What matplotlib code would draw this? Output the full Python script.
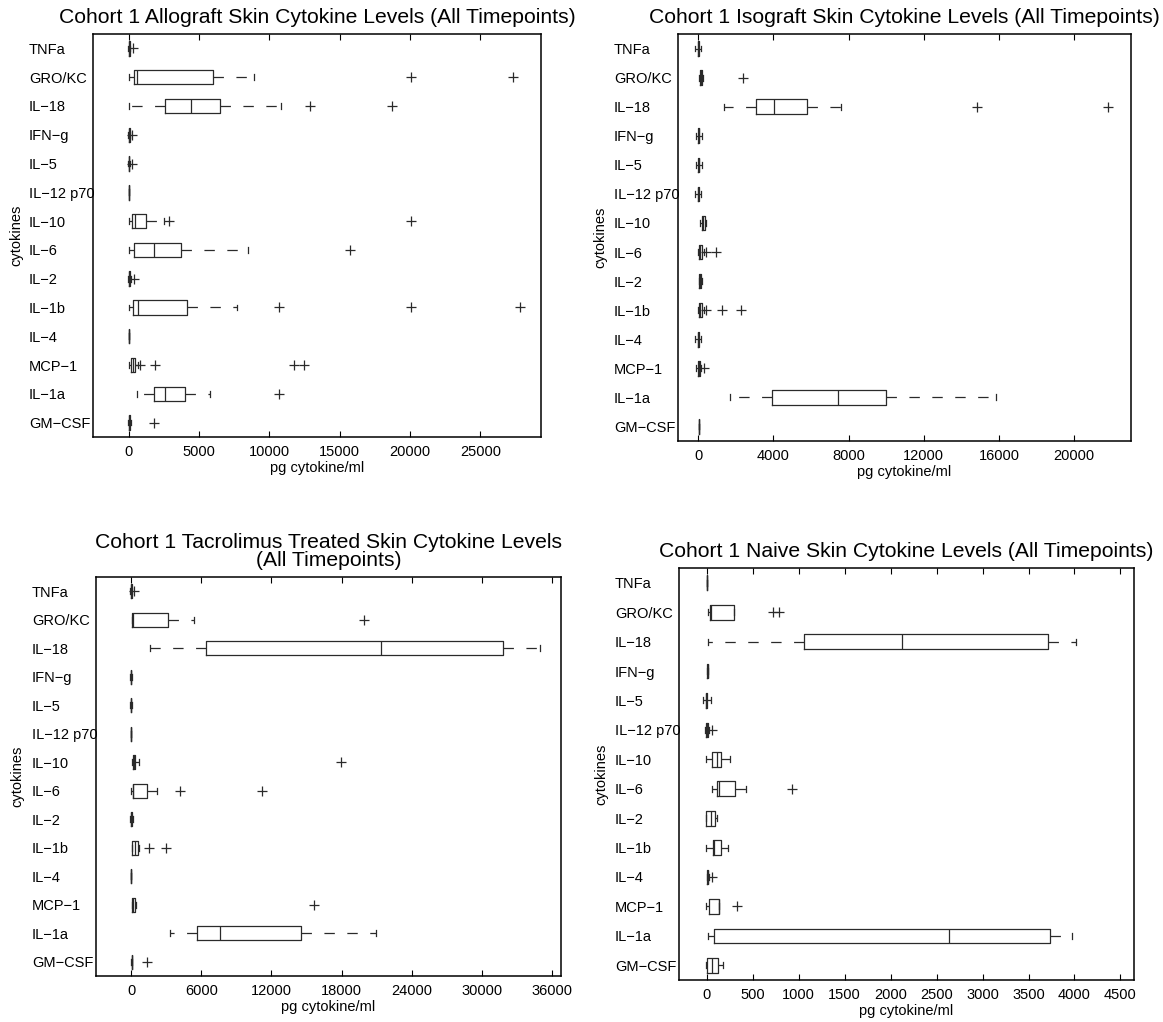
import numpy as np
import matplotlib
matplotlib.use("Agg")
import matplotlib.pyplot as plt

plt.rcParams['font.family'] = ['Liberation Sans', 'DejaVu Sans']
plt.rcParams['lines.scale_dashes'] = False

cytokines = ["TNFa", "GRO/KC", "IL\u221218", "IFN\u2212g", "IL\u22125", "IL\u221212 p70",
             "IL\u221210", "IL\u22126", "IL\u22122", "IL\u22121b", "IL\u22124",
             "MCP\u22121", "IL\u22121a", "GM\u2212CSF"]

# box stats per cytokine: (whisker low, q1, median, q3, whisker high), pg/ml
allograft_box = [(-60, 0, 20, 60, 120), (0, 355, 590, 6000, 8930),
                 (0, 2600, 4460, 6520, 10850), (-40, 0, 30, 70, 120),
                 (-60, -10, 20, 50, 100), (0, 0, 5, 10, 15),
                 (50, 240, 470, 1260, 2540), (0, 355, 1780, 3720, 8490),
                 (-30, 20, 50, 100, 160), (50, 285, 665, 4150, 7660),
                 (0, 0, 5, 10, 15), (50, 190, 300, 475, 650),
                 (590, 1780, 2600, 4030, 5760), (-30, 0, 30, 80, 130)]
allograft_out = [[310], [20030, 27300], [12870, 18720], [230], [200], [],
                 [2840, 20030], [15690], [400], [10710, 20030, 27800], [],
                 [820, 1840, 11730, 12440], [10660], [1800]]

isograft_box = [(-150, -20, 0, 20, 150), (40, 70, 120, 195, 250),
                (1366, 3070, 4030, 5766, 7590), (-120, 0, 30, 60, 180),
                (-120, 0, 30, 60, 180), (-170, -20, 0, 20, 150),
                (70, 180, 260, 340, 420), (0, 50, 110, 195, 280),
                (20, 35, 90, 160, 180), (0, 50, 100, 195, 280),
                (-150, -20, 0, 20, 150), (-100, 0, 40, 90, 150),
                (1685, 3920, 7430, 9970, 15860), (20, 30, 35, 40, 50)]
isograft_out = [[], [2400], [14850, 21800], [], [], [], [], [390, 920], [],
                [390, 1280, 2250], [], [300], [], []]

tacro_box = [(-60, -20, 0, 40, 100), (60, 114, 200, 3160, 5390),
             (1625, 6410, 21380, 31800, 35000), (-100, -20, 0, 30, 100),
             (-100, -20, 0, 30, 100), (0, 0, 0, 5, 5),
             (90, 140, 250, 370, 710), (0, 140, 170, 1400, 2250),
             (-60, -10, 20, 60, 150), (60, 85, 300, 630, 700),
             (0, 0, 0, 5, 5), (50, 85, 200, 370, 450),
             (3360, 5610, 7610, 14535, 20920), (30, 40, 50, 60, 70)]
tacro_out = [[285], [19950], [], [], [], [], [17950], [4220, 11170], [],
             [1570, 2960], [], [15650], [], [1370]]

naive_box = [(7, 7, 8, 9, 9), (15, 36, 43, 293, 293),
             (18, 1054, 2130, 3714, 4011), (0, 2, 10, 18, 20),
             (-40, -10, -5, 5, 45), (-20, -5, 0, 15, 30),
             (-10, 62, 109, 152, 254), (54, 109, 134, 308, 424),
             (-11, -11, 43, 91, 109), (-11, 65, 80, 156, 235),
             (0, 7, 12, 18, 30), (-7, 22, 130, 134, 140),
             (15, 83, 2634, 3732, 3978), (-7, 0, 54, 120, 181)]
naive_out = [[], [717, 790], [], [], [], [55], [], [931], [], [], [55],
             [333], [], []]

titles = ["Cohort 1 Allograft Skin Cytokine Levels (All Timepoints)",
          "Cohort 1 Isograft Skin Cytokine Levels (All Timepoints)",
          "Cohort 1 Tacrolimus Treated Skin Cytokine Levels\n(All Timepoints)",
          "Cohort 1 Naive Skin Cytokine Levels (All Timepoints)"]
xlims = [(-2540, 29300), (-1080, 23020), (-3000, 36760), (-300, 4647)]
xticks = [np.arange(0, 25001, 5000), np.arange(0, 20001, 4000),
          np.arange(0, 36001, 6000), np.arange(0, 4501, 500)]
# axes rectangles in pixels: left, right, top, bottom
rects = [(93, 541, 34, 437), (678, 1131, 34, 441),
         (96, 561, 577, 976), (679, 1134, 568, 980)]

W, H = 1163, 1022
fig = plt.figure(figsize=(W / 100, H / 100), dpi=100)

ink = '#2a2a2a'
n = len(cytokines)
pos = np.arange(n, 0, -1)

for k, (boxes, outs) in enumerate([(allograft_box, allograft_out),
                                    (isograft_box, isograft_out),
                                    (tacro_box, tacro_out),
                                    (naive_box, naive_out)]):
    l, r, t, b = rects[k]
    ax = fig.add_axes([l / W, 1 - b / H, (r - l) / W, (b - t) / H])
    stats = []
    for (lo, q1, med, q3, hi), fl in zip(boxes, outs):
        stats.append(dict(whislo=lo, q1=q1, med=med, q3=q3, whishi=hi,
                          fliers=np.array(fl, dtype=float)))
    ax.bxp(stats, positions=pos, widths=0.5, capwidths=0.2,
           orientation='horizontal', showfliers=True,
           boxprops=dict(color=ink, lw=0.9),
           medianprops=dict(color=ink, lw=0.9),
           whiskerprops=dict(color=ink, lw=0.9, linestyle=(0, (7.5, 9))),
           capprops=dict(color=ink, lw=0.9),
           flierprops=dict(marker='+', markersize=6.5, markeredgewidth=0.9,
                           markeredgecolor=ink, linestyle='none'))
    ax.set_xlim(*xlims[k])
    ax.set_ylim(0.5, n + 0.5)
    ax.set_xticks(xticks[k])
    ax.set_xticklabels([str(v) for v in xticks[k]], fontsize=10.5)
    ax.set_yticks(pos)
    ax.set_yticklabels(cytokines, fontsize=10.5)
    for lbl in ax.get_yticklabels():
        lbl.set_horizontalalignment('left')
    ax.tick_params(axis='y', length=0, pad=46)
    ax.tick_params(axis='x', direction='in', top=True, length=4,
                   width=0.8, pad=6)
    for s in ax.spines.values():
        s.set_linewidth(1.1)
        s.set_color('black')
    ax.set_xlabel("pg cytokine/ml", fontsize=10.5, labelpad=1.5)
    ax.set_ylabel("cytokines", fontsize=10.5)
    ax.yaxis.set_label_coords(-0.155, 0.5)
    ax.set_title(titles[k], fontsize=15.2, pad=8, linespacing=0.92)

fig.savefig("out.png", dpi=100)
